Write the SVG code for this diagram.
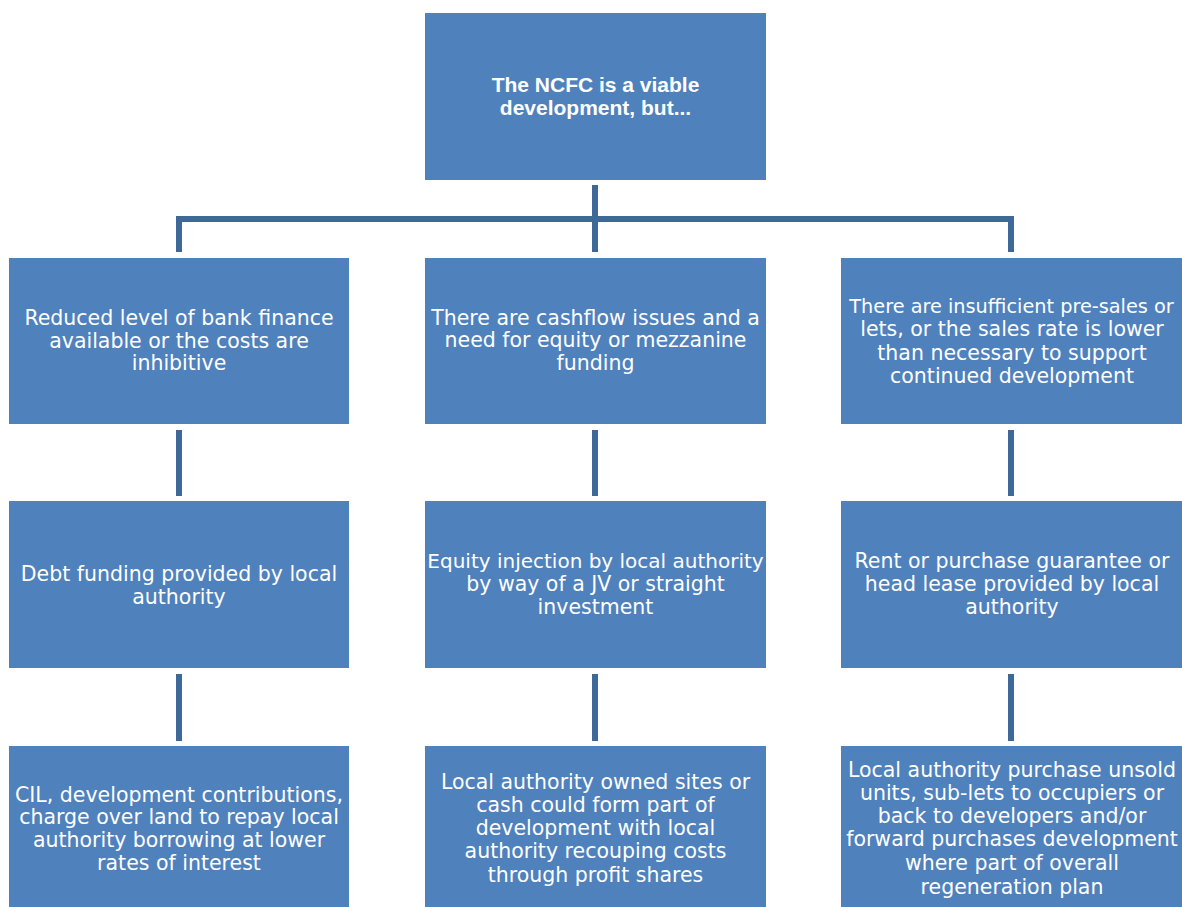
<svg xmlns="http://www.w3.org/2000/svg" width="1182" height="907" viewBox="0 0 1182 907">
  <style>
    .box { fill: #4F81BD; }
    .link { fill: none; stroke: #3E6898; stroke-width: 6; stroke-linecap: butt; }
    .t { font-family: "DejaVu Sans", "Liberation Sans", sans-serif; font-size: 20.5px; fill: #FFFFFF; text-anchor: middle; }
    .title { font-family: "Liberation Sans", Arial, sans-serif; font-size: 21px; font-weight: bold; fill: #FFFFFF; text-anchor: middle; }
  </style>
  <rect width="1182" height="907" fill="#FFFFFF"/>

  <!-- connectors -->
  <g id="connectors">
    <path class="link" d="M595 185 V252"/>
    <path class="link" d="M179 252 V219 H1011 V252"/>
    <path class="link" d="M595 219 V252"/>
    <path class="link" d="M179 430 V496"/>
    <path class="link" d="M595 430 V496"/>
    <path class="link" d="M1011 430 V496"/>
    <path class="link" d="M179 674 V741"/>
    <path class="link" d="M595 674 V741"/>
    <path class="link" d="M1011 674 V741"/>
  </g>

  <!-- root -->
  <g id="root">
    <rect class="box" x="425" y="13" width="341" height="167"/>
    <text class="title" x="595.5" y="92">The NCFC is a viable</text>
    <text class="title" x="595.5" y="115">development, but...</text>
  </g>

  <!-- second level: problems -->
  <g id="bank-finance">
    <rect class="box" x="9" y="258" width="340" height="166"/>
    <text class="t" x="179" y="325">Reduced level of bank finance</text>
    <text class="t" x="179" y="347.5">available or the costs are</text>
    <text class="t" x="179" y="370">inhibitive</text>
  </g>
  <g id="cashflow">
    <rect class="box" x="425" y="258" width="341" height="166"/>
    <text class="t" x="595.5" y="324.5">There are cashflow issues and a</text>
    <text class="t" x="595.5" y="347">need for equity or mezzanine</text>
    <text class="t" x="595.5" y="370">funding</text>
  </g>
  <g id="presales">
    <rect class="box" x="841" y="258" width="341" height="166"/>
    <text class="t" x="1011.5" y="313" style="font-size:19.3px">There are insufficient pre-sales or</text>
    <text class="t" x="1012" y="336">lets, or the sales rate is lower</text>
    <text class="t" x="1012" y="359.5">than necessary to support</text>
    <text class="t" x="1012" y="383">continued development</text>
  </g>

  <!-- third level: interventions -->
  <g id="debt-funding">
    <rect class="box" x="9" y="501" width="340" height="167"/>
    <text class="t" x="179" y="581">Debt funding provided by local</text>
    <text class="t" x="179" y="603.5">authority</text>
  </g>
  <g id="equity-injection">
    <rect class="box" x="425" y="501" width="341" height="167"/>
    <text class="t" x="595.5" y="568" style="font-size:20px">Equity injection by local authority</text>
    <text class="t" x="595.5" y="591">by way of a JV or straight</text>
    <text class="t" x="595.5" y="613.5">investment</text>
  </g>
  <g id="guarantee">
    <rect class="box" x="841" y="501" width="341" height="167"/>
    <text class="t" x="1012" y="568">Rent or purchase guarantee or</text>
    <text class="t" x="1012" y="591">head lease provided by local</text>
    <text class="t" x="1012" y="613.5">authority</text>
  </g>

  <!-- fourth level: mechanisms -->
  <g id="cil">
    <rect class="box" x="9" y="746" width="340" height="161"/>
    <text class="t" x="179" y="801.5">CIL, development contributions,</text>
    <text class="t" x="179" y="824">charge over land to repay local</text>
    <text class="t" x="179" y="847">authority borrowing at lower</text>
    <text class="t" x="179" y="870">rates of interest</text>
  </g>
  <g id="owned-sites">
    <rect class="box" x="425" y="746" width="341" height="161"/>
    <text class="t" x="595.5" y="788.5">Local authority owned sites or</text>
    <text class="t" x="595.5" y="811.5">cash could form part of</text>
    <text class="t" x="595.5" y="834.5">development with local</text>
    <text class="t" x="595.5" y="858">authority recouping costs</text>
    <text class="t" x="595.5" y="881.5">through profit shares</text>
  </g>
  <g id="purchase-unsold">
    <rect class="box" x="841" y="746" width="341" height="161"/>
    <text class="t" x="1012" y="777">Local authority purchase unsold</text>
    <text class="t" x="1012" y="800">units, sub-lets to occupiers or</text>
    <text class="t" x="1012" y="823">back to developers and/or</text>
    <text class="t" x="1012" y="846">forward purchases development</text>
    <text class="t" x="1012" y="870">where part of overall</text>
    <text class="t" x="1012" y="893.5">regeneration plan</text>
  </g>
</svg>
